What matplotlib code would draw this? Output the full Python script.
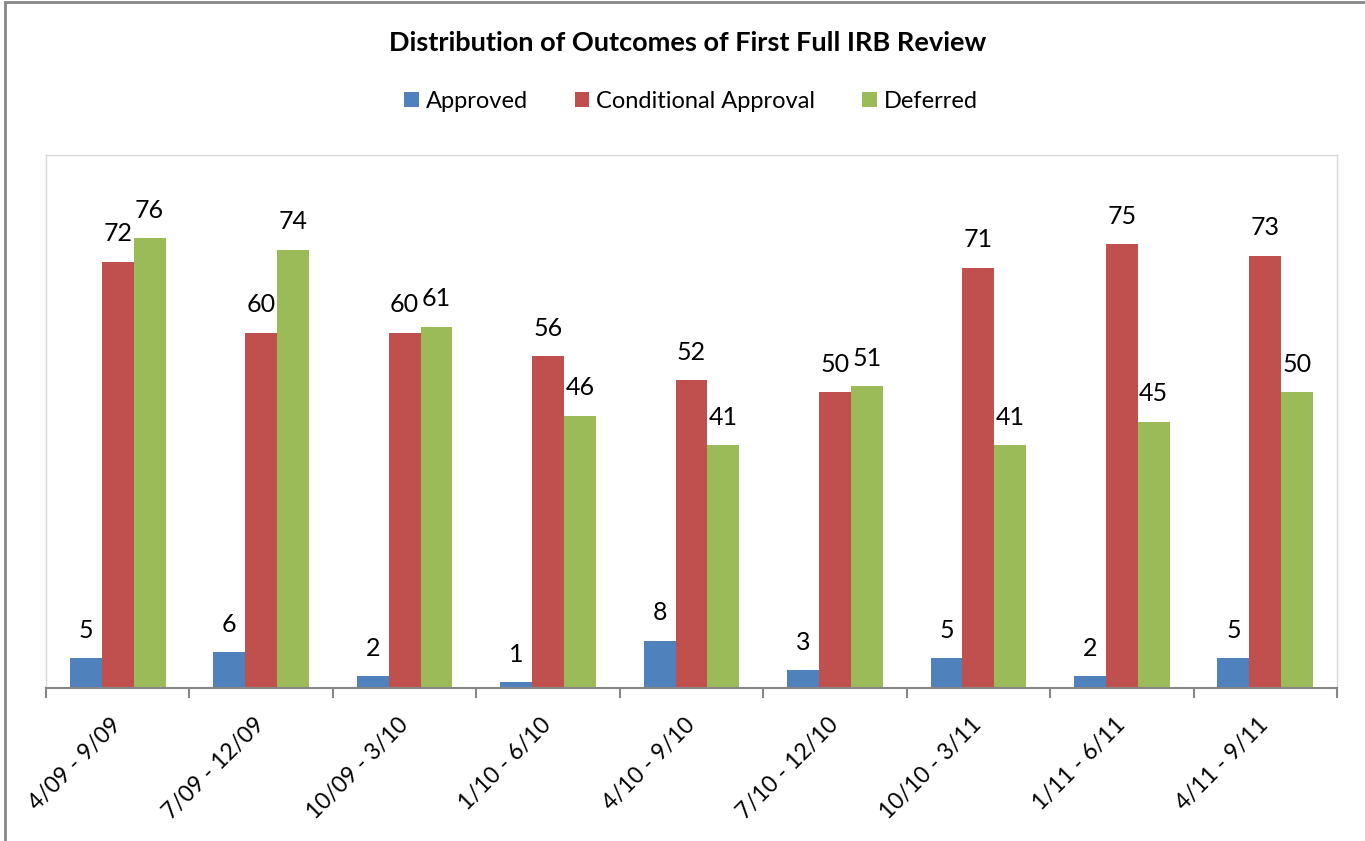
import matplotlib.pyplot as plt
import numpy as np
from matplotlib.patches import Rectangle

periods = ['4/09 - 9/09', '7/09 - 12/09', '10/09 - 3/10', '1/10 - 6/10', '4/10 - 9/10',
           '7/10 - 12/10', '10/10 - 3/11', '1/11 - 6/11', '4/11 - 9/11']
approved = [5, 6, 2, 1, 8, 3, 5, 2, 5]
conditional = [72, 60, 60, 56, 52, 50, 71, 75, 73]
deferred = [76, 74, 61, 46, 41, 51, 41, 45, 50]

series_names = ['Approved', 'Conditional Approval', 'Deferred']
colors = ['#4F81BD', '#C0504D', '#9BBB59']

plt.rcParams['font.family'] = ['Lato', 'DejaVu Sans']

fig = plt.figure(figsize=(13.65, 8.41), dpi=100)
ax = fig.add_axes([46 / 1365, 1 - 688 / 841, (1337 - 46) / 1365, (688 - 155) / 841])

x = np.arange(len(periods))
w = 1 / 4.5
for i, (vals, name, c) in enumerate(zip([approved, conditional, deferred], series_names, colors)):
    bars = ax.bar(x + (i - 1) * w, vals, w, color=c, label=name)
    for b, v in zip(bars, vals):
        ax.annotate(str(v), (b.get_x() + b.get_width() / 2, v), xytext=(0, 20),
                    textcoords='offset points', ha='center', va='center', fontsize=18)

ax.set_xlim(-0.5, len(periods) - 0.5)
ax.set_ylim(0, 90)
ax.set_yticks([])
ax.set_xticks(x)
ax.set_xticklabels(periods, rotation=45, ha='right', va='center', rotation_mode='anchor', fontsize=16.5)
ax.tick_params(axis='x', which='major', length=0, pad=24)
ax.set_xticks(np.arange(len(periods) + 1) - 0.5, minor=True)
ax.tick_params(axis='x', which='minor', length=7, width=1.5, color='#868686', direction='out')

for s in ['top', 'right', 'left']:
    ax.spines[s].set_color('#D9D9D9')
    ax.spines[s].set_linewidth(1)
ax.spines['bottom'].set_color('#868686')
ax.spines['bottom'].set_linewidth(1.5)

fig.text(688 / 1365, 1 - 43 / 841, 'Distribution of Outcomes of First Full IRB Review',
         ha='center', va='center', fontsize=19.5, fontweight='bold')
fig.legend(loc='center', bbox_to_anchor=(691 / 1365, 1 - 101 / 841), ncol=3, frameon=False,
           fontsize=17, handlelength=0.6, handleheight=0.6, handletextpad=0.3, columnspacing=2.0)

fig.patches.append(Rectangle((5 / 1365, -0.1), 1.2, 1 - 2 / 841 + 0.1, transform=fig.transFigure,
                             fill=False, edgecolor='#868686', linewidth=2))

fig.savefig('out.png', dpi=100)
